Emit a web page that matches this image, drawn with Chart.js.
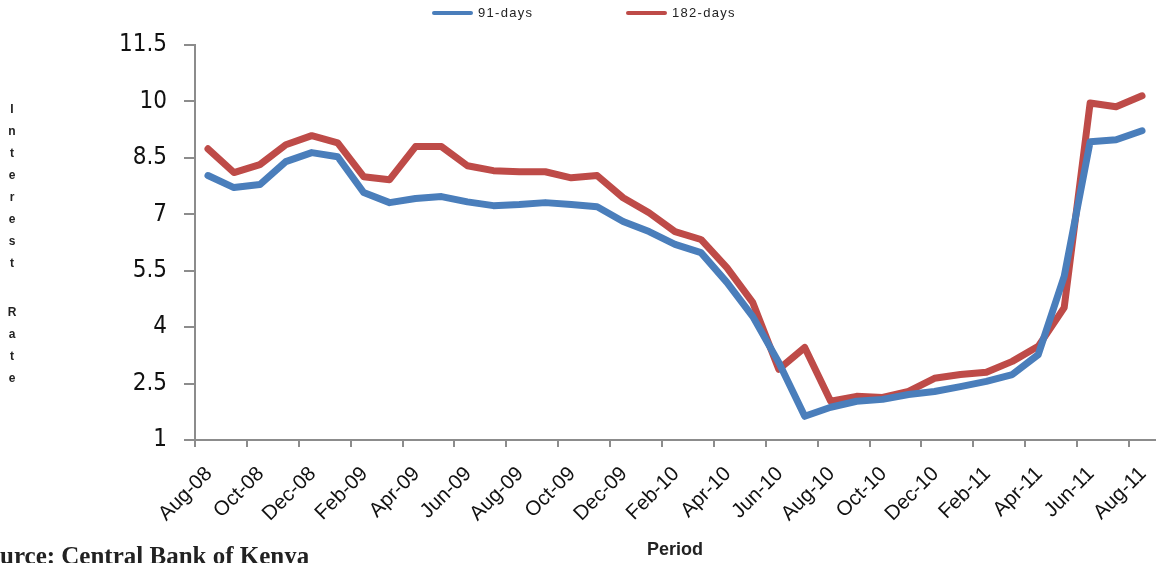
<!DOCTYPE html>
<html lang="en">
<head>
  <meta charset="UTF-8">
  <title>Treasury bill rates</title>
  <script src="https://cdn.jsdelivr.net/npm/chart.js"></script>
  <style>
    html, body { margin: 0; padding: 0; background: #fff; }
    #wrap { width: 1158px; height: 563px; position: relative; }
  </style>
</head>
<body>
  <div id="wrap"><canvas id="grafico"></canvas></div>

  <script>
    // data
    const meses = ['Aug-08','Sep-08','Oct-08','Nov-08','Dec-08','Jan-09','Feb-09','Mar-09','Apr-09','May-09',
      'Jun-09','Jul-09','Aug-09','Sep-09','Oct-09','Nov-09','Dec-09','Jan-10','Feb-10','Mar-10',
      'Apr-10','May-10','Jun-10','Jul-10','Aug-10','Sep-10','Oct-10','Nov-10','Dec-10','Jan-11',
      'Feb-11','Mar-11','Apr-11','May-11','Jun-11','Jul-11','Aug-11'];
    const dias91 = [8.03, 7.71, 7.79, 8.40, 8.64, 8.53, 7.58, 7.31, 7.42, 7.47,
      7.33, 7.23, 7.26, 7.31, 7.26, 7.20, 6.81, 6.54, 6.20, 5.98,
      5.19, 4.28, 3.06, 1.63, 1.87, 2.03, 2.08, 2.21, 2.29, 2.42,
      2.56, 2.74, 3.27, 5.35, 8.93, 8.98, 9.22];
    const dias182 = [8.74, 8.11, 8.32, 8.85, 9.09, 8.90, 8.00, 7.92, 8.80, 8.80,
      8.29, 8.16, 8.13, 8.13, 7.97, 8.03, 7.44, 7.04, 6.54, 6.33,
      5.58, 4.65, 2.88, 3.46, 2.03, 2.16, 2.13, 2.29, 2.64, 2.74,
      2.80, 3.09, 3.49, 4.52, 9.96, 9.86, 10.15];
    const yMin = 1, yMax = 11.5, yStep = 1.5;

    const AZUL = '#4a7ebb';
    const VERMELHO = '#be4b48';
    const CINZA = '#8c8c8c';

    // legend, vertical axis title and source line
    const extras = {
      id: 'extras',
      afterDraw(chart) {
        const ctx = chart.ctx;
        ctx.save();

        // legend
        const itens = [
          { txt: '91-days', cor: AZUL, x: 432 },
          { txt: '182-days', cor: VERMELHO, x: 626 }
        ];
        ctx.font = '13px "Liberation Sans", Arial, sans-serif';
        ctx.letterSpacing = '1.3px';
        ctx.textBaseline = 'middle';
        ctx.textAlign = 'left';
        itens.forEach(it => {
          ctx.strokeStyle = it.cor;
          ctx.lineWidth = 4;
          ctx.lineCap = 'round';
          ctx.beginPath();
          ctx.moveTo(it.x + 2, 13);
          ctx.lineTo(it.x + 39, 13);
          ctx.stroke();
          ctx.fillStyle = '#222';
          ctx.fillText(it.txt, it.x + 46, 13);
        });
        ctx.letterSpacing = '0px';

        // y title, one letter per line
        ctx.font = 'bold 12px "Liberation Sans", Arial, sans-serif';
        ctx.fillStyle = '#222';
        ctx.textAlign = 'center';
        'Interest'.split('').forEach((c, i) => ctx.fillText(c, 12, 110 + i * 21.9));
        'Rate'.split('').forEach((c, i) => ctx.fillText(c, 12, 313 + i * 21.8));

        // source, cut at the left edge
        ctx.font = 'bold 25px "Liberation Serif", "Times New Roman", serif';
        ctx.textAlign = 'left';
        ctx.textBaseline = 'alphabetic';
        const corte = ctx.measureText('So').width;
        ctx.fillText('Source: Central Bank of Kenya', -corte, 564);

        ctx.restore();
      }
    };

    const ctx = document.getElementById('grafico').getContext('2d');

    new Chart(ctx, {
      type: 'line',
      data: {
        labels: meses,
        datasets: [
          {
            label: '91-days',
            data: dias91,
            borderColor: AZUL,
            backgroundColor: AZUL,
            borderWidth: 7,
            borderCapStyle: 'round',
            borderJoinStyle: 'round',
            pointRadius: 0,
            tension: 0
          },
          {
            label: '182-days',
            data: dias182,
            borderColor: VERMELHO,
            backgroundColor: VERMELHO,
            borderWidth: 7,
            borderCapStyle: 'round',
            borderJoinStyle: 'round',
            pointRadius: 0,
            tension: 0
          }
        ]
      },
      options: {
        responsive: true,
        maintainAspectRatio: false,
        animation: false,
        layout: { padding: { top: 45, right: 3, left: 0, bottom: 0 } },
        plugins: {
          legend: { display: false },
          tooltip: { enabled: false }
        },
        scales: {
          x: {
            type: 'category',
            offset: true,
            afterFit: (s) => { s.height = 123; s.paddingLeft = 0; s.paddingRight = 0; },
            border: { display: true, color: CINZA, width: 2 },
            grid: {
              offset: true,
              drawOnChartArea: false,
              drawTicks: true,
              tickLength: 7,
              lineWidth: 2,
              color: (c) => (c.index % 2 === 0 ? CINZA : 'rgba(0,0,0,0)')
            },
            ticks: {
              autoSkip: false,
              maxRotation: 45,
              minRotation: 45,
              padding: 15,
              labelOffset: 1,
              color: '#111',
              font: { family: '"Liberation Sans", Arial, sans-serif', size: 20.5 },
              callback: (v, i) => (i % 2 === 0 ? meses[i] : '')
            },
            title: {
              display: true,
              text: 'Period',
              color: '#222',
              padding: { top: 0, bottom: 2 },
              font: { family: '"Liberation Sans", Arial, sans-serif', size: 18, weight: 'bold' }
            }
          },
          y: {
            min: yMin,
            max: yMax,
            afterFit: (s) => { s.width = 195; },
            border: { display: true, color: CINZA, width: 2 },
            grid: {
              drawOnChartArea: false,
              drawTicks: true,
              tickLength: 11,
              lineWidth: 2,
              color: CINZA
            },
            ticks: {
              stepSize: yStep,
              padding: 17,
              color: '#111',
              font: { family: '"Liberation Sans Narrow", "Arial Narrow", "DejaVu Sans Condensed", sans-serif', size: 24 }
            }
          }
        }
      },
      plugins: [extras]
    });
  </script>
</body>
</html>
